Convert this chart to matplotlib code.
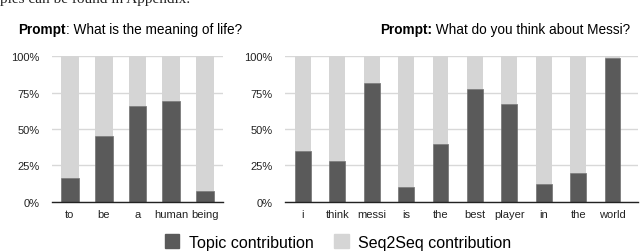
import matplotlib.pyplot as plt
import matplotlib.patches as mpatches
import numpy as np

plt.rcParams['font.family'] = ['Liberation Sans', 'DejaVu Sans']

# data (share of topic contribution)
words_life = ['to', 'be', 'a', 'human', 'being']
topic_life = [0.16, 0.45, 0.655, 0.69, 0.074]

words_messi = ['i', 'think', 'messi', 'is', 'the', 'best', 'player', 'in', 'the', 'world']
topic_messi = [0.347, 0.28, 0.818, 0.103, 0.40, 0.773, 0.674, 0.12, 0.20, 0.986]

dark = '#5a5a5a'
light = '#d5d5d5'

fig = plt.figure(figsize=(6.4, 2.53), dpi=100)

# cut off caption line from the page above
fig.text(0.0, 1 - 3.5 / 253, 'ples can be found in Appendix.', family='Liberation Serif',
         fontsize=11, va='baseline', ha='left', color='#222222')

ax1 = fig.add_axes([52 / 640, 50.3 / 253, 171 / 640, 145.4 / 253])
ax2 = fig.add_axes([285 / 640, 50.3 / 253, 353 / 640, 145.4 / 253])


def draw(ax, words, topic, width, xlim):
    x = np.arange(len(words))
    topic = np.array(topic)
    ax.bar(x, topic, width, color=dark, edgecolor='#707070', linewidth=0.5, zorder=3)
    ax.bar(x, 1 - topic, width, bottom=topic, color=light, linewidth=0, zorder=3)
    ax.set_xlim(*xlim)
    ax.set_ylim(0, 1)
    ax.set_yticks([0, 0.25, 0.5, 0.75, 1.0])
    ax.set_yticklabels(['0%', '25%', '50%', '75%', '100%'])
    ax.set_xticks(x)
    ax.set_xticklabels(words)
    ax.grid(axis='y', color='#d8d8d8', linewidth=1.0, zorder=0)
    for s in ['top', 'right', 'left']:
        ax.spines[s].set_visible(False)
    ax.spines['bottom'].set_color('#222222')
    ax.spines['bottom'].set_linewidth(1.0)
    ax.spines['bottom'].set_zorder(4)
    ax.tick_params(axis='both', length=0, labelsize=8, colors='#222222', pad=5)
    ax.tick_params(axis='y', pad=9)


draw(ax1, words_life, topic_life, 0.53, (-0.53, 4.53))
draw(ax2, words_messi, topic_messi, 0.46, (-0.52, 9.74))

# titles: bold "Prompt" followed by the regular question
ty = 1 - 30 / 253
p1 = fig.text(18 / 640, ty, 'Prompt', fontsize=9.8, fontweight='bold', ha='left', va='center')
fig.canvas.draw()
fig.text(p1.get_window_extent().x1 / 640, ty, ': What is the meaning of life?',
         fontsize=9.8, ha='left', va='center')
t = fig.text(630 / 640, ty, ' What do you think about Messi?', fontsize=9.8,
             ha='right', va='center')
fig.canvas.draw()
fig.text(t.get_window_extent().x0 / 640, ty, 'Prompt:', fontsize=9.8, fontweight='bold',
         ha='right', va='center')

handles = [mpatches.Patch(color=dark, label='Topic contribution'),
           mpatches.Patch(color=light, label='Seq2Seq contribution')]
fig.legend(handles=handles, loc='center', bbox_to_anchor=(338 / 640, 1 - 243 / 253),
           ncol=2, frameon=False, fontsize=11.5, handlelength=0.9, handleheight=0.9,
           handletextpad=0.6, columnspacing=1.3)

fig.savefig('out.png', dpi=100)
